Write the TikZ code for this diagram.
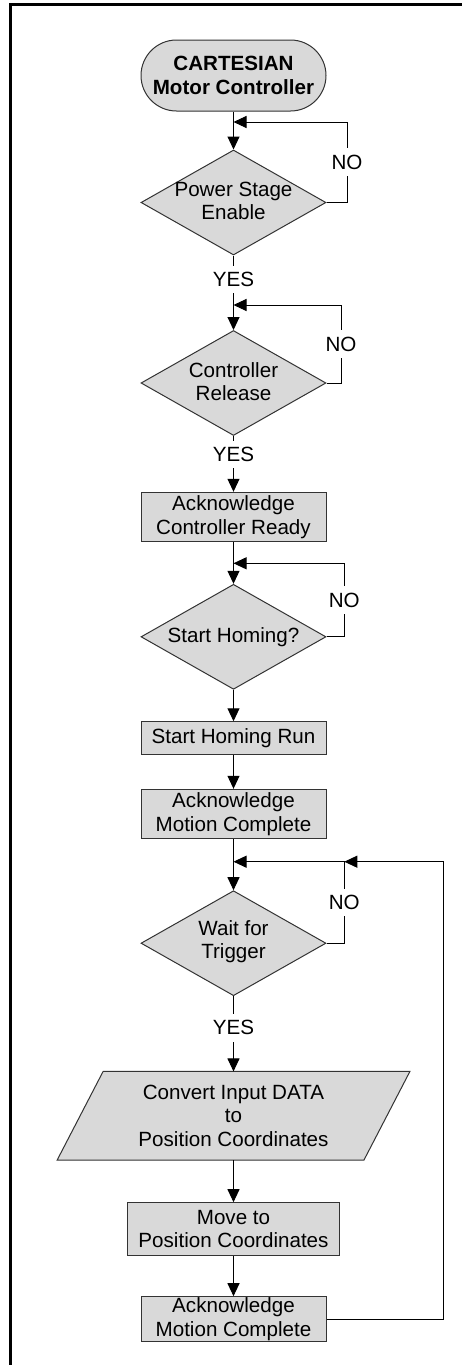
\documentclass[tikz,border=0pt]{standalone}
\usepackage{fontspec}
\setmainfont{Liberation Sans}
\usetikzlibrary{arrows.meta,shapes.geometric,backgrounds}

\begin{document}
\begin{tikzpicture}[x=1pt,y=-1pt,
  every node/.style={font=\fontsize{20.6pt}{23.5pt}\selectfont, inner sep=0pt, align=center},
  shapeline/.style={draw=black!80, fill=black!15, line width=1pt},
  terminal/.style={shapeline, rectangle, rounded corners=35.5pt, minimum width=185pt, minimum height=71pt, font=\fontsize{20.6pt}{23.5pt}\selectfont\bfseries},
  decision/.style={shapeline, diamond, minimum width=185pt, minimum height=105pt},
  procbox/.style={shapeline, rectangle, minimum width=185pt},
  flow/.style={draw=black, line width=1pt, -{Triangle[length=13pt,width=12pt]}},
  wire/.style={draw=black, line width=1pt},
  lbl/.style={fill=white, inner xsep=2pt, inner ysep=6.5pt}
]
\useasboundingbox (0,0) rectangle (462,1365);

% page frame (top and left edges)
\draw[line width=2.7pt, line join=miter] (10.5,1366) -- (10.5,4.6) -- (463,4.6);

% shapes
\node[terminal] (term) at (233.5,75.5) {CARTESIAN\\Motor Controller};

\node[decision] (d1) at (233.5,202.5) {};
\node (d1t) at (233.5,201) {Power Stage\\Enable};

\node[decision] (d2) at (233.5,383) {};
\node (d2t) at (233.5,381.7) {Controller\\Release};

\node[procbox, minimum height=49.4pt] (b1) at (233.5,517) {Acknowledge\\Controller Ready};

\node[decision] (d3) at (233.5,636.8) {};
\node (d3t) at (233.5,636.8) {Start Homing?};

\node[procbox, minimum height=32.3pt] (b2) at (233.5,737.9) {Start Homing Run};

\node[procbox, minimum height=49.4pt] (b3) at (233.5,814) {Acknowledge\\Motion Complete};

\node[decision] (d4) at (233.5,943.2) {};
\node (d4t) at (233.5,941.7) {Wait for\\Trigger};

\node[minimum width=306.4pt, minimum height=88.3pt] (conv) at (233.5,1115.8) {Convert Input DATA\\to\\Position Coordinates};
\begin{scope}[on background layer]
  \path[shapeline] ([xshift=23pt]conv.north west) -- ([xshift=23pt]conv.north east)
    -- ([xshift=-23pt]conv.south east) -- ([xshift=-23pt]conv.south west) -- cycle;
\end{scope}

\node[procbox, minimum width=212pt, minimum height=53pt] (b4) at (233.5,1229.2) {Move to\\Position Coordinates};

\node[procbox, minimum height=45pt] (b5) at (233.5,1319.2) {Acknowledge\\Motion Complete};

% junction points of the retry loops
\coordinate (j1) at (233.5,122);
\coordinate (n1) at (347,122);
\coordinate (j2) at (233.5,305);
\coordinate (n2) at (341,305);
\coordinate (j3) at (233.5,563.3);
\coordinate (n3) at (344.3,563.3);
\coordinate (j4) at (233.5,861.7);
\coordinate (n4) at (344.3,861.7);
\coordinate (o1) at (443.3,861.7);

% main flow
\draw[flow] (term.south) -- (d1.north);
\draw[flow] (d1.south) -- node[lbl, pos=0.32] {YES} (d2.north);
\draw[flow] (d2.south) -- node[lbl, pos=0.335] {YES} (b1.north);
\draw[flow] (b1.south) -- (d3.north);
\draw[flow] (d3.south) -- (b2.north);
\draw[flow] (b2.south) -- (b3.north);
\draw[flow] (b3.south) -- (d4.north);
\draw[flow] (d4.south) -- node[lbl, pos=0.42] {YES} (conv.north);
\draw[flow] (conv.south) -- (b4.north);
\draw[flow] (b4.south) -- (b5.north);

% NO loops
\draw[flow] (d1.east) -| node[lbl, pos=0.75] {NO} (n1) -- (j1);
\draw[flow] (d2.east) -| node[lbl, pos=0.75] {NO} (n2) -- (j2);
\draw[flow] (d3.east) -| node[lbl, pos=0.75] {NO} (n3) -- (j3);
\draw[flow] (d4.east) -| node[lbl, pos=0.75] {NO} (n4) -- (j4);

% return loop to the trigger wait
\draw[flow] (b5.east) -| (o1) -- (n4);
\end{tikzpicture}
\end{document}
